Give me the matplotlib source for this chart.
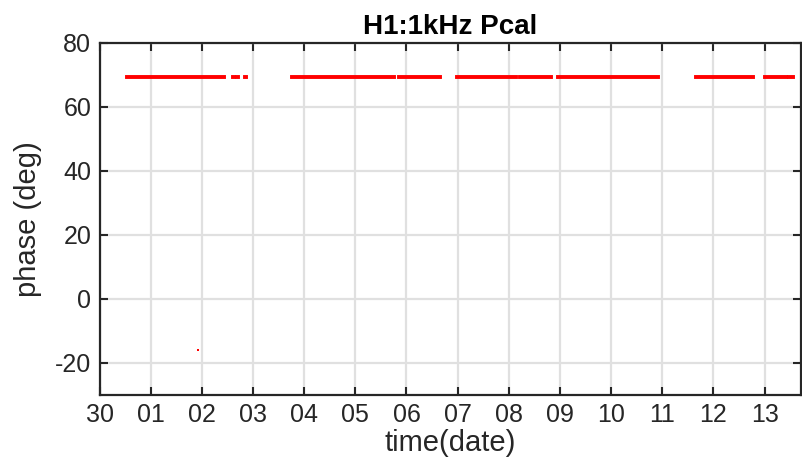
import numpy as np
import matplotlib
matplotlib.use('Agg')
import matplotlib.pyplot as plt

plt.rcParams['font.family'] = ['Liberation Sans', 'DejaVu Sans']
plt.rcParams['axes.unicode_minus'] = False

# days counted from the "30" tick
tick_days = list(range(14))
tick_labels = ['30', '01', '02', '03', '04', '05', '06', '07',
               '08', '09', '10', '11', '12', '13']

# stretches of data at ~69 deg (start day, end day)
seg_start = [0.53, 2.61, 2.69, 2.84, 3.76, 5.86, 6.98, 8.22, 8.96, 11.65, 13.00, 13.47]
seg_end   = [2.43, 2.63, 2.71, 2.86, 5.75, 6.65, 8.14, 8.82, 10.92, 12.78, 13.41, 13.55]
seg_phase = [69.2] * len(seg_start)

# single outlier
out_day = [1.92]
out_phase = [-16.0]

fig = plt.figure(figsize=(8.03, 4.63), dpi=100)
ax = fig.add_axes([0.124, 0.147, 0.874, 0.761])

for s, e, p in zip(seg_start, seg_end, seg_phase):
    ax.plot([s, e], [p, p], color='red', lw=2.8, solid_capstyle='projecting')
ax.plot(out_day, out_phase, 's', color='red', ms=1.6, mew=0)

ax.set_xlim(0, 13.72)
ax.set_ylim(-30, 80)
ax.set_xticks(tick_days)
ax.set_xticklabels(tick_labels)
ax.set_yticks([-20, 0, 20, 40, 60, 80])

ax.grid(True, color='#e0e0e0', lw=1.6)
ax.set_axisbelow(True)
ax.tick_params(direction='in', top=True, right=True, length=6, width=1.5,
               labelsize=18, colors='#262626', pad=6)
for sp in ax.spines.values():
    sp.set_linewidth(1.6)
    sp.set_color('#262626')

ax.set_xlabel('time(date)', fontsize=21, color='#262626', labelpad=1)
ax.set_ylabel('phase (deg)', fontsize=21, color='#262626', labelpad=9)
ax.set_title('H1:1kHz Pcal', fontsize=20, fontweight='bold', pad=6)

fig.savefig('out.png', dpi=100)
